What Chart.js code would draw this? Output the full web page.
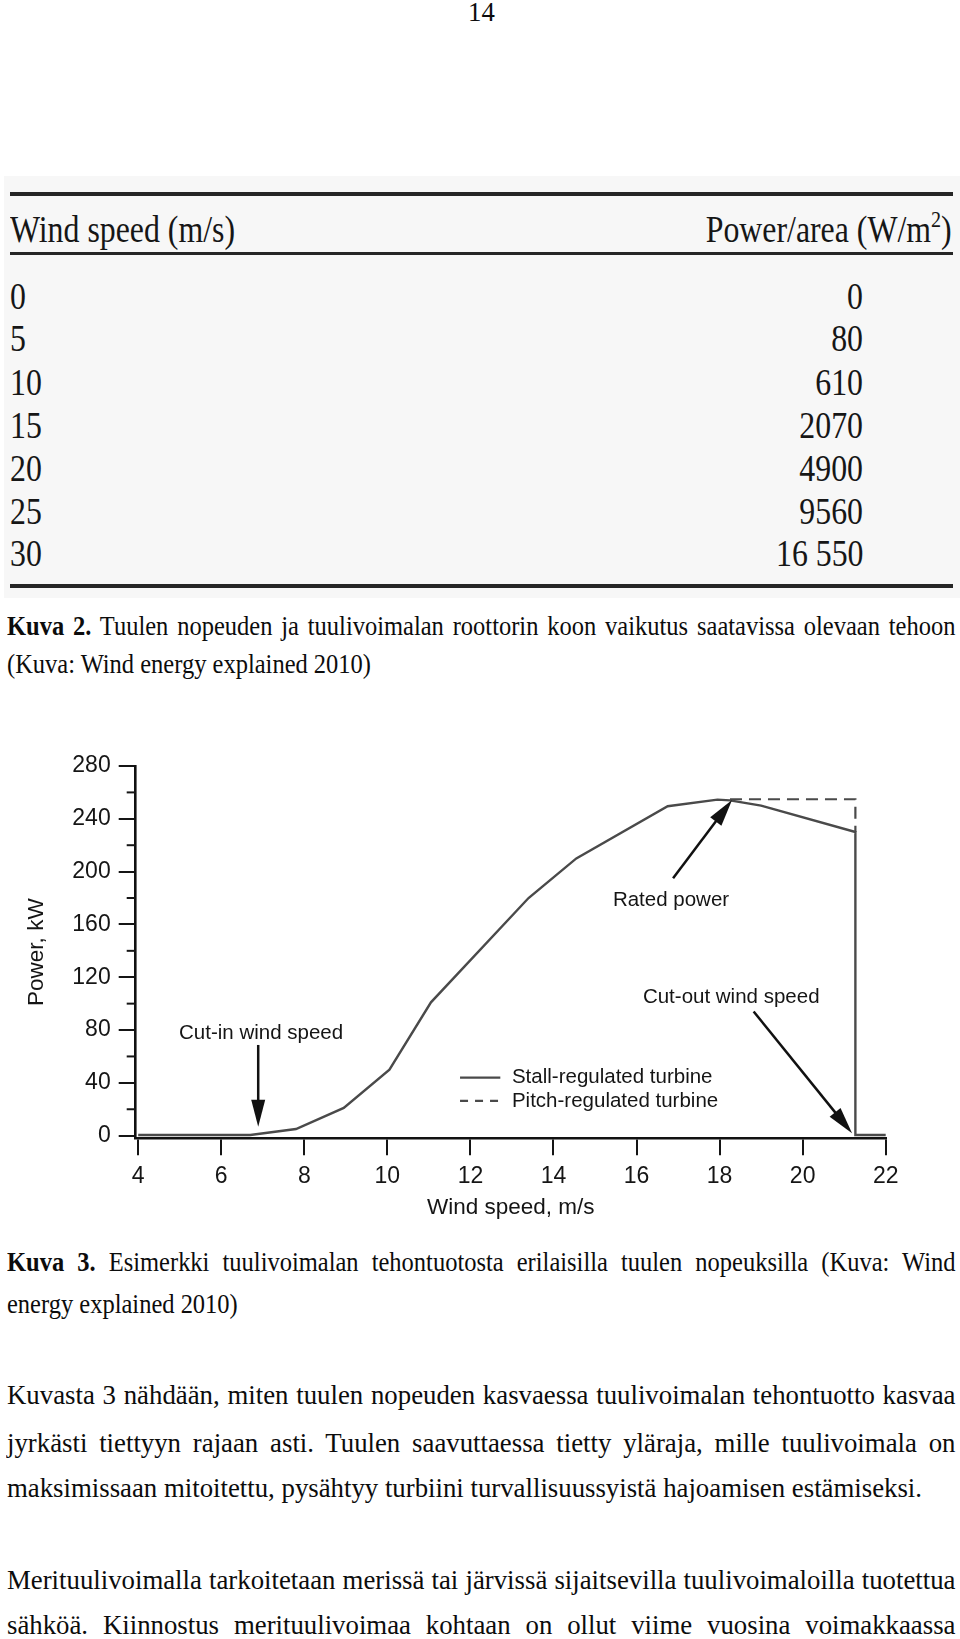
<!DOCTYPE html>
<html>
<head>
<meta charset="utf-8">
<script src="https://cdn.jsdelivr.net/npm/chart.js@4.4.0/dist/chart.umd.min.js"></script>
<style>
html, body { margin: 0; padding: 0; background: #fff; }
body { width: 960px; height: 1639px; position: relative; overflow: hidden;
       font-family: "Liberation Serif", "Times New Roman", serif; color: #0c0c0c; }
.ln { position: absolute; left: 7px; white-space: nowrap; font-size: 27px; line-height: 31px; transform-origin: 0 0; }
.tb { position: absolute; white-space: nowrap; font-size: 38px; line-height: 44px; color: #161616; }
.rule { position: absolute; left: 10px; width: 943px; background: #262626; }
#tableBg { position: absolute; left: 4px; top: 176px; width: 956px; height: 422px; background: #f7f7f7; }
#chartBox { position: absolute; left: 0; top: 700px; width: 960px; height: 540px; }
</style>
</head>
<body>
<div id="tableBg"></div>
<div class="rule" style="top:192px;height:4px"></div>
<div class="rule" style="top:252px;height:3px"></div>
<div class="rule" style="top:584px;height:4px"></div>
<div id="chartBox"><canvas id="powerChart" width="960" height="540"></canvas></div>

<script>
// table (Kuva 2)
const tableSpeeds = ['0', '5', '10', '15', '20', '25', '30'];
const tablePower = ['0', '80', '610', '2070', '4900', '9560', '16 550'];

// power curve (Kuva 3)
const stallSpeed = [4, 6.7, 7.8, 8.95, 10.05, 11.05, 13.4, 14.55, 16.75, 17.95, 18.25, 19.0, 21.27, 21.27, 22];
const stallPower = [0.5, 0.5, 5, 21, 50, 101, 180, 210, 249.5, 254.5, 254, 250, 230, 0.5, 0.5];
const pitchSpeed = [18.25, 21.27, 21.27];
const pitchPower = [254.8, 254.8, 230];

const xTicks = [4, 6, 8, 10, 12, 14, 16, 18, 20, 22];
const yTicks = [0, 40, 80, 120, 160, 200, 240, 280];
const yMinorTicks = [20, 60, 100, 140, 180, 220, 260];

// annotation anchors in data units
const labels = [
    { text: 'Cut-in wind speed', x: 6.96, y: 77.6 },
    { text: 'Rated power', x: 16.83, y: 178.6 },
    { text: 'Cut-out wind speed', x: 18.28, y: 104.5 }
];
const arrows = [
    [6.89, 68.7, 6.89, 6.8],
    [16.88, 195, 18.3, 254.3],
    [18.82, 94, 21.19, 1.8]
];
const legendItems = [
    { text: 'Stall-regulated turbine', y: 44, dash: [] },
    { text: 'Pitch-regulated turbine', y: 26.3, dash: [8, 7] }
];

// ---------- page text ----------
// group: which scan scale the line belongs to; ref: measured width of an unjustified line
const bodyLines = [
    { y: 12.5, html: '14', center: 481, group: 'body' },
    { y: 626, html: '<b>Kuva 2.</b> Tuulen nopeuden ja tuulivoimalan roottorin koon vaikutus saatavissa olevaan tehoon', justify: true, group: 'cap' },
    { y: 664, html: '(Kuva: Wind energy explained 2010)', group: 'cap', ref: 364 },
    { y: 1262.6, html: '<b>Kuva 3.</b> Esimerkki tuulivoimalan tehontuotosta erilaisilla tuulen nopeuksilla (Kuva: Wind', justify: true, group: 'cap' },
    { y: 1304.4, html: 'energy explained 2010)', group: 'cap' },
    { y: 1395.2, html: 'Kuvasta 3 nähdään, miten tuulen nopeuden kasvaessa tuulivoimalan tehontuotto kasvaa', justify: true, group: 'body' },
    { y: 1443.2, html: 'jyrkästi tiettyyn rajaan asti. Tuulen saavuttaessa tietty yläraja, mille tuulivoimala on', justify: true, group: 'body' },
    { y: 1488, html: 'maksimissaan mitoitettu, pysähtyy turbiini turvallisuussyistä hajoamisen estämiseksi.', ref: 915, group: 'body' },
    { y: 1580, html: 'Merituulivoimalla tarkoitetaan merissä tai järvissä sijaitsevilla tuulivoimaloilla tuotettua', justify: true, group: 'body' },
    { y: 1625, html: 'sähköä. Kiinnostus merituulivoimaa kohtaan on ollut viime vuosina voimakkaassa', justify: true, group: 'body' }
];

function makeDiv(cls, html) {
    const d = document.createElement('div');
    d.className = cls;
    d.innerHTML = html;
    document.body.appendChild(d);
    return d;
}

const groupScale = {};
bodyLines.filter(l => l.ref).forEach(l => {
    const probe = makeDiv('ln', l.html);
    groupScale[l.group] = l.ref / probe.getBoundingClientRect().width;
    probe.remove();
});

bodyLines.forEach(l => {
    const s = groupScale[l.group];
    const d = makeDiv('ln', l.html);
    d.style.top = (l.y - 15.5) + 'px';
    const w = d.getBoundingClientRect().width;
    if (l.justify) {
        const f = Math.min(s, 948 / w);
        d.style.whiteSpace = 'normal';
        d.style.width = (948 / f + 0.5) + 'px';
        d.style.textAlign = 'justify';
        d.style.textAlignLast = 'justify';
        d.style.transform = 'scaleX(' + f + ')';
    } else {
        d.style.transform = 'scaleX(' + s + ')';
        if (l.center) d.style.left = (l.center - w * s / 2) + 'px';
    }
});

// table text
const tProbe = makeDiv('tb', 'Wind speed (m/s)');
const tableScale = 225 / tProbe.getBoundingClientRect().width;
tProbe.remove();

function tableCell(html, y, left, right) {
    const d = makeDiv('tb', html);
    d.style.top = (y - 22) + 'px';
    if (left !== null) {
        d.style.left = left + 'px';
        d.style.transformOrigin = '0 0';
    } else {
        d.style.right = (960 - right) + 'px';
        d.style.transformOrigin = '100% 0';
    }
    d.style.transform = 'scaleX(' + tableScale + ')';
}
tableCell('Wind speed (m/s)', 229, 10.4, null);
tableCell('Power/area (W/m<sup style="font-size:24px;line-height:0;vertical-align:15px">2</sup>)', 229, null, 951.6);
const rowY = [295.5, 338, 381.5, 425, 468, 511.3, 553.3];
tableSpeeds.forEach((s, i) => {
    tableCell(s, rowY[i], 10.4, null);
    tableCell(tablePower[i], rowY[i], null, 863);
});

// ---------- chart ----------
const ink = '#151515';
const curveColor = '#4a4a4a';
const sansFont = '"Liberation Sans", Arial, Helvetica, sans-serif';

function toPoints(xs, ys) {
    return xs.map((x, i) => ({ x: x, y: ys[i] }));
}

function drawArrow(ctx, x1, y1, x2, y2) {
    const a = Math.atan2(y2 - y1, x2 - x1);
    const len = 27, half = 7;
    const bx = x2 - len * Math.cos(a), by = y2 - len * Math.sin(a);
    ctx.beginPath();
    ctx.moveTo(x1, y1);
    ctx.lineTo(bx + 4 * Math.cos(a), by + 4 * Math.sin(a));
    ctx.stroke();
    ctx.beginPath();
    ctx.moveTo(x2, y2);
    ctx.lineTo(bx + half * Math.sin(a), by - half * Math.cos(a));
    ctx.lineTo(bx - half * Math.sin(a), by + half * Math.cos(a));
    ctx.closePath();
    ctx.fill();
}

const extras = {
    id: 'extras',
    afterDraw(chart) {
        const ctx = chart.ctx;
        const xs = chart.scales.x, ys = chart.scales.y;
        const left = chart.chartArea.left;
        ctx.save();
        // minor ticks on the power axis
        ctx.strokeStyle = ink;
        ctx.lineWidth = 2;
        yMinorTicks.forEach(v => {
            const py = ys.getPixelForValue(v);
            ctx.beginPath();
            ctx.moveTo(left - 9, py);
            ctx.lineTo(left, py);
            ctx.stroke();
        });
        // labels
        ctx.fillStyle = ink;
        ctx.font = '20.5px ' + sansFont;
        ctx.textAlign = 'center';
        ctx.textBaseline = 'middle';
        labels.forEach(l => ctx.fillText(l.text, xs.getPixelForValue(l.x), ys.getPixelForValue(l.y)));
        // arrows
        ctx.strokeStyle = '#111';
        ctx.fillStyle = '#111';
        ctx.lineWidth = 2.5;
        arrows.forEach(a => drawArrow(ctx, xs.getPixelForValue(a[0]), ys.getPixelForValue(a[1]),
                                           xs.getPixelForValue(a[2]), ys.getPixelForValue(a[3])));
        // legend
        ctx.textAlign = 'left';
        ctx.fillStyle = ink;
        legendItems.forEach(item => {
            const py = ys.getPixelForValue(item.y);
            ctx.strokeStyle = curveColor;
            ctx.lineWidth = 2.2;
            ctx.setLineDash(item.dash);
            ctx.beginPath();
            ctx.moveTo(xs.getPixelForValue(11.75), py);
            ctx.lineTo(xs.getPixelForValue(12.72), py);
            ctx.stroke();
            ctx.setLineDash([]);
            ctx.fillText(item.text, xs.getPixelForValue(13.0), py);
        });
        ctx.restore();
    }
};

new Chart(document.getElementById('powerChart'), {
    type: 'line',
    data: {
        datasets: [
            {
                label: 'Stall-regulated turbine',
                data: toPoints(stallSpeed, stallPower),
                borderColor: curveColor,
                borderWidth: 2.4,
                pointRadius: 0,
                tension: 0,
                clip: 6
            },
            {
                label: 'Pitch-regulated turbine',
                data: toPoints(pitchSpeed, pitchPower),
                borderColor: curveColor,
                borderWidth: 2.2,
                borderDash: [12, 7],
                pointRadius: 0,
                tension: 0,
                clip: 6
            }
        ]
    },
    options: {
        responsive: false,
        animation: false,
        devicePixelRatio: 1,
        layout: { padding: { top: 66, right: 74.3, bottom: 0, left: 0 } },
        plugins: { legend: { display: false }, tooltip: { enabled: false } },
        scales: {
            x: {
                type: 'linear',
                min: 3.94,
                max: 22,
                afterBuildTicks: s => { s.ticks = xTicks.map(v => ({ value: v })); },
                afterFit: s => { s.height = 101.7; },
                grid: { drawOnChartArea: false, drawTicks: true, tickLength: 17, color: ink, lineWidth: 2 },
                border: { display: true, color: '#111', width: 2.6 },
                ticks: { color: ink, padding: 8, font: { family: sansFont, size: 23 } },
                title: { display: true, text: 'Wind speed, m/s', color: ink,
                         font: { family: sansFont, size: 22.5 }, padding: { top: 0, bottom: 18.5 } }
            },
            y: {
                type: 'linear',
                min: -2,
                max: 280,
                afterBuildTicks: s => { s.ticks = yTicks.map(v => ({ value: v })); },
                afterFit: s => { s.width = 135.7; },
                grid: { drawOnChartArea: false, drawTicks: true, tickLength: 17, color: ink, lineWidth: 2 },
                border: { display: true, color: '#111', width: 2.6 },
                ticks: { color: ink, padding: 8, font: { family: sansFont, size: 23 } },
                title: { display: true, text: 'Power, kW', color: ink,
                         font: { family: sansFont, size: 22.5 }, padding: { top: 23, bottom: 0 } }
            }
        }
    },
    plugins: [extras]
});
</script>
</body>
</html>
